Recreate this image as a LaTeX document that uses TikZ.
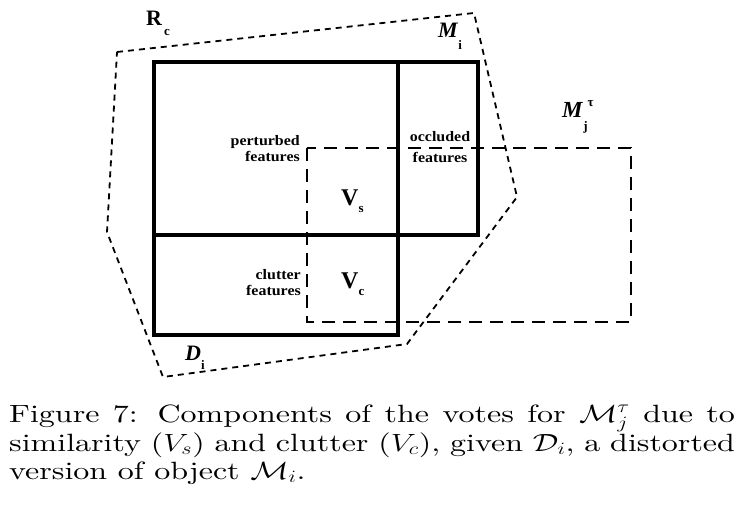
\documentclass[tikz,border=0pt]{standalone}
\usepackage{fontspec}
\usepackage{graphicx}
\usepackage{tikz}
\usetikzlibrary{positioning}
\newfontfamily\labelfont{Liberation Serif}
\newfontfamily\captionfont{lmroman10-regular.otf}
\newcommand{\widen}[1]{\scalebox{1.1}[1]{#1}}
\newcommand{\lowsub}[2]{\raisebox{#1}{\fontsize{13}{13}\selectfont\bfseries\upshape #2}}
\tikzset{region line/.style = {dash pattern=on 6pt off 5pt, line width=1.8pt, line join=miter}}

\begin{document}
\begin{tikzpicture}[x=1pt,y=-1pt,
    thick box/.style={line width=3.2pt, line join=miter},
    model box/.style={dash pattern=on 13pt off 8pt, line width=2.4pt},
    small label/.style={font=\labelfont\bfseries\fontsize{14.5}{16}\selectfont, inner sep=0pt},
    big label/.style={font=\labelfont\bfseries\fontsize{22}{22}\selectfont, inner sep=0pt, anchor=base west}]
            \fill[white] (0,0) rectangle (738,513);
            \useasboundingbox (0,0) rectangle (738,513);

            % transformed model M_j
            \draw[model box] (307,148) rectangle (631,322);
            % object M_i and distorted view D_i
            \draw[thick box] (154,62) rectangle (478,235);
            \draw[thick box] (154,62) rectangle (398,335);
            % region R_c
            \draw[region line] (117,52) -- (474,13) -- (517,197) -- (407,344)
                -- (163,377) -- (107,232) -- cycle;

            \node[big label] (rc) at (146,26) {R\hspace{2pt}\lowsub{-10pt}{c}};
            \node[big label] (mi) at (438,38) {\itshape M\/\lowsub{-12pt}{i}};
            \node[big label, font=\labelfont\bfseries\fontsize{23}{23}\selectfont] (mj) at (562,118)
                {\itshape M\/\lowsub{-13pt}{j}\lowsub{11pt}{τ}};
            \node[big label] (di) at (185,360) {\itshape D\lowsub{-9pt}{i}};
            \node[big label, font=\labelfont\bfseries\fontsize{24}{24}\selectfont] (vs) at (341,205) {V\lowsub{-7pt}{s}};
            \node[big label, font=\labelfont\bfseries\fontsize{24}{24}\selectfont] (vc) at (341,288) {V\lowsub{-7pt}{c}};

            \node[small label, anchor=north east] (perturbed) at (300,134.5)
                {\widen{\begin{tabular}{@{}r@{}}perturbed\\features\end{tabular}}};
            \node[small label, anchor=north] (occluded) at (440,130)
                {\widen{\begin{tabular}{@{}c@{}}occluded\\[5pt]features\end{tabular}}};
            \node[small label, anchor=north east] (clutter) at (301,268)
                {\widen{\begin{tabular}{@{}r@{}}clutter\\features\end{tabular}}};

            \node[anchor=base west, inner sep=0pt, font=\captionfont\fontsize{25}{28}\selectfont] (caption) at (9,422)
                {\scalebox{1.28}[1]{\parbox[t]{567pt}{Figure 7: Components of the votes for $\mathcal{M}_j^{\tau}$ due to\linebreak
                similarity ($V_s$) and clutter ($V_c$), given $\mathcal{D}_i$, a distorted\linebreak
                version of object $\mathcal{M}_i$.}}};
        \end{tikzpicture}
\end{document}
